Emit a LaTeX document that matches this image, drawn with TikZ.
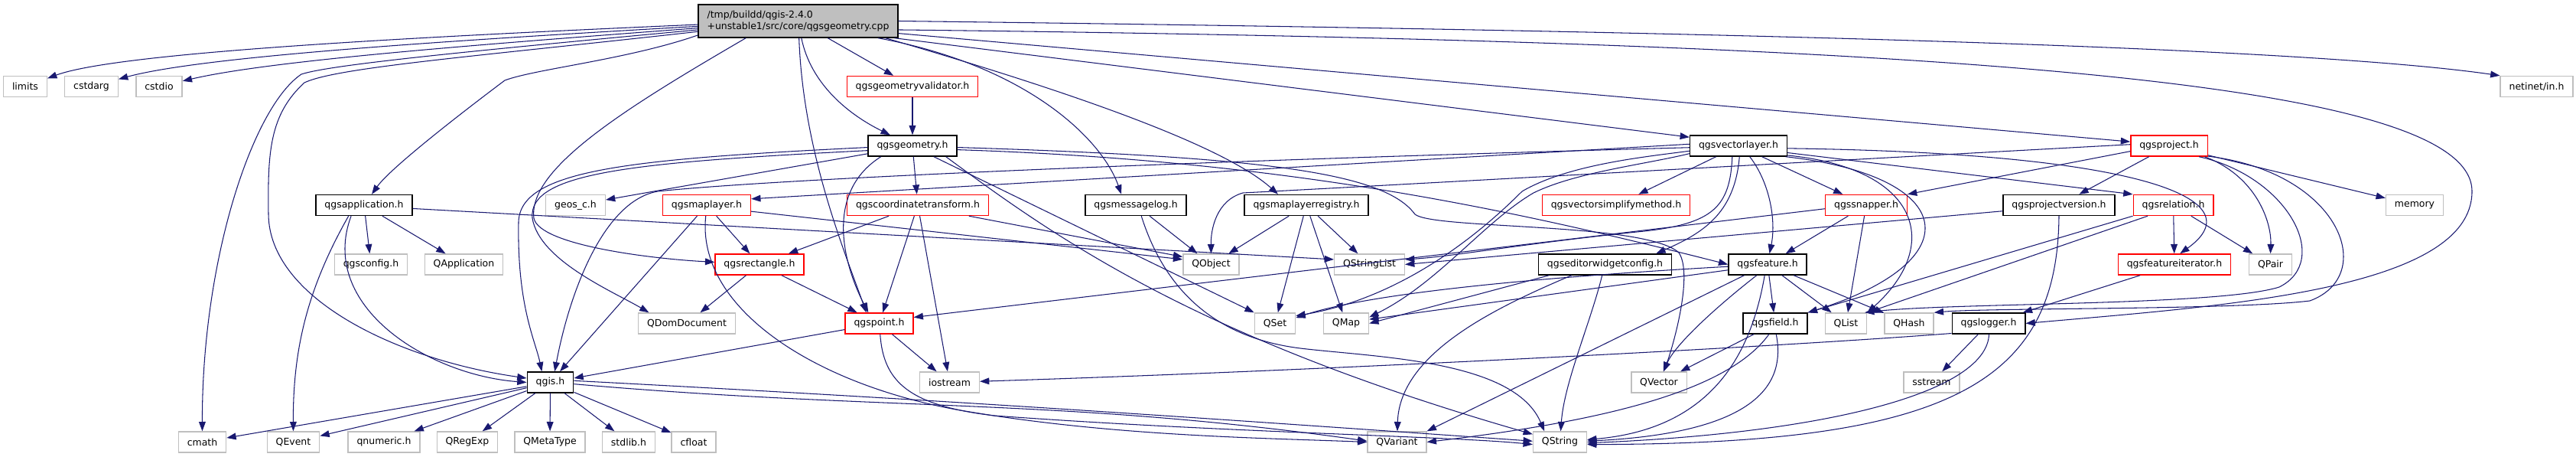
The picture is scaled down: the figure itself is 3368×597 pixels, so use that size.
\documentclass[tikz,border=0pt]{standalone}
\usepackage{fontspec}
\setmainfont{DejaVu Sans}
\usetikzlibrary{arrows.meta}
\definecolor{edgeblue}{RGB}{25,25,112}
\definecolor{sysgray}{RGB}{191,191,191}

\begin{document}
\begin{tikzpicture}[x=0.02cm,y=0.02cm,
  inc/.style={rectangle,draw=black,fill=white,line width=0.8pt,inner xsep=6.5pt,inner ysep=0pt,
              minimum height=0.54cm,font=\fontsize{7.1}{8.5}\selectfont},
  incred/.style={inc,draw=red},
  sys/.style={inc,draw=sysgray},
  cppfile/.style={inc,fill=sysgray,align=left,minimum height=0.86cm},
  dep/.style={-{Triangle[length=7pt,width=5pt]},edgeblue,line width=0.6pt}
]
\useasboundingbox (0,0) rectangle (3368,-597);

\node[cppfile] (root) at (1043.5,-27.5) {/tmp/buildd/qgis-2.4.0\\+unstable1/src/core/qgsgeometry.cpp};

\node[sys] (limits) at (33,-113) {limits};
\node[sys] (cstdarg) at (119.5,-113) {cstdarg};
\node[sys] (cstdio) at (208,-113) {cstdio};
\node[incred] (gvalid) at (1193,-113) {qgsgeometryvalidator.h};
\node[sys] (netinet) at (3316.5,-113) {netinet/in.h};

\node[inc] (geom) at (1193,-190.5) {qgsgeometry.h};
\node[inc] (vlayer) at (2273,-190.5) {qgsvectorlayer.h};
\node[incred] (project) at (2836,-190.5) {qgsproject.h};

\node[inc] (app) at (476,-268) {qgsapplication.h};
\node[sys] (geos) at (752.5,-268) {geos\_c.h};
\node[incred] (maplayer) at (924,-268) {qgsmaplayer.h};
\node[incred] (ct) at (1200,-268) {qgscoordinatetransform.h};
\node[inc] (msglog) at (1485,-268) {qgsmessagelog.h};
\node[inc] (mlreg) at (1708,-268) {qgsmaplayerregistry.h};
\node[incred] (vsimp) at (2113,-268) {qgsvectorsimplifymethod.h};
\node[incred] (snapper) at (2440,-268) {qgssnapper.h};
\node[inc] (projver) at (2692,-268) {qgsprojectversion.h};
\node[incred] (relation) at (2841.5,-268) {qgsrelation.h};
\node[sys] (memory) at (3157,-268) {memory};

\node[sys] (qgsconfig) at (485,-345.5) {qgsconfig.h};
\node[sys] (qapp) at (606.5,-345.5) {QApplication};
\node[incred] (rect) at (993,-345.5) {qgsrectangle.h};
\node[sys] (qobject) at (1583.5,-345.5) {QObject};
\node[sys] (qstringlist) at (1790.5,-345.5) {QStringList};
\node[inc] (ewc) at (2098.5,-345.5) {qgseditorwidgetconfig.h};
\node[inc] (feature) at (2311,-345.5) {qgsfeature.h};
\node[incred] (fiter) at (2843,-345.5) {qgsfeatureiterator.h};
\node[sys] (qpair) at (2968.5,-345.5) {QPair};

\node[sys] (qdomdoc) at (898,-422.5) {QDomDocument};
\node[incred] (point) at (1149.5,-422.5) {qgspoint.h};
\node[sys] (qset) at (1667,-422.5) {QSet};
\node[sys] (qmap) at (1760,-422.5) {QMap};
\node[inc] (field) at (2321,-422.5) {qgsfield.h};
\node[sys] (qlist) at (2413.5,-422.5) {QList};
\node[sys] (qhash) at (2496,-422.5) {QHash};
\node[inc] (logger) at (2600,-422.5) {qgslogger.h};

\node[inc] (qgis) at (719.5,-499.5) {qgis.h};
\node[sys] (iostream) at (1241.5,-499.5) {iostream};
\node[sys] (qvector) at (2169,-499.5) {QVector};
\node[sys] (sstream) at (2525.5,-499.5) {sstream};

\node[sys] (cmath) at (264.5,-577.5) {cmath};
\node[sys] (qevent) at (383.5,-577.5) {QEvent};
\node[sys] (qnumeric) at (502,-577.5) {qnumeric.h};
\node[sys] (qregexp) at (611,-577.5) {QRegExp};
\node[sys] (qmetatype) at (719,-577.5) {QMetaType};
\node[sys] (stdlib) at (822,-577.5) {stdlib.h};
\node[sys] (cfloat) at (907,-577.5) {cfloat};
\node[sys] (qvariant) at (1826.5,-577.5) {QVariant};
\node[sys] (qstring) at (2039.5,-577.5) {QString};

% qgsgeometry.cpp
\draw[dep] (root.182) .. controls (500,-50) and (150,-70) .. (limits);
\draw[dep] (root.183) .. controls (550,-55) and (260,-75) .. (cstdarg);
\draw[dep] (root.184) .. controls (600,-60) and (350,-80) .. (cstdio);
\draw[dep] (root.185) .. controls (600,-68) and (430,-85) .. (394,-97) .. controls (330,-140) and (264,-340) .. (cmath);
\draw[dep] (root.186) .. controls (620,-74) and (440,-88) .. (398,-108) .. controls (352,-150) and (350,-200) .. (351,-280) .. controls (352,-390) and (520,-470) .. (qgis.170);
\draw[dep] (root.188) .. controls (820,-78) and (700,-90) .. (660,-105) .. controls (600,-150) and (510,-220) .. (app);
\draw[dep] (root.198) .. controls (820,-140) and (690,-220) .. (698,-285) .. controls (705,-320) and (850,-338) .. (rect);
\draw[dep] (root) -- (gvalid);
\draw[dep] (root.281) .. controls (1060,-110) and (1110,-150) .. (geom);
\draw[dep] (root.273) .. controls (1050,-200) and (1105,-330) .. (point.140);
\draw[dep] (root.348) .. controls (1340,-85) and (1440,-180) .. (msglog.143);
\draw[dep] (root.349) .. controls (1400,-120) and (1600,-190) .. (mlreg.159);
\draw[dep] (root.350) -- (vlayer.170);
\draw[dep] (root.353) -- (project.174);
\draw[dep] (root.east) .. controls (2200,-40) and (3000,-60) .. (netinet.north west);
\draw[dep] (root.355) .. controls (2600,-55) and (3232,-110) .. (3232,-250) .. controls (3232,-380) and (2900,-400) .. (logger.east);

\draw[dep] (gvalid) -- (geom);

% qgsgeometry.h
\draw[dep] (geom) -- (geos);
\draw[dep] (geom.182) .. controls (820,-208) and (680,-222) .. (678,-290) .. controls (676,-400) and (700,-445) .. (qgis.128);
\draw[dep] (geom.186) .. controls (830,-212) and (690,-225) .. (696,-285) .. controls (705,-340) and (800,-380) .. (qdomdoc.164);
\draw[dep] (geom) -- (ct);
\draw[dep] (geom.199) .. controls (1080,-250) and (1100,-340) .. (point.135);
\draw[dep] (geom.333) -- (qset.north west);
\draw[dep] (geom.342) .. controls (1380,-310) and (1560,-440) .. (qstring);
\draw[dep] (geom.358) .. controls (1650,-205) and (1810,-225) .. (1850,-280) .. controls (1875,-300) and (2150,-290) .. (2195,-330) .. controls (2215,-360) and (2185,-460) .. (qvector);
\draw[dep] (geom.355) .. controls (1700,-210) and (2000,-280) .. (feature.west);

% qgsapplication.h
\draw[dep] (app.215) .. controls (400,-380) and (383,-460) .. (qevent);
\draw[dep] (app.220) .. controls (415,-400) and (560,-490) .. (qgis.west);
\draw[dep] (app) -- (qgsconfig);
\draw[dep] (app) -- (qapp);
\draw[dep] (app.356) -- (qstringlist.172);

\draw[dep] (msglog) -- (qobject);
\draw[dep] (msglog.297) .. controls (1520,-370) and (1580,-440) .. (1700,-455) .. controls (1800,-467) and (1980,-470) .. (qstring.145);

\draw[dep] (mlreg) -- (qobject);
\draw[dep] (mlreg) -- (qset);
\draw[dep] (mlreg) -- (qmap);
\draw[dep] (mlreg) -- (qstringlist);

\draw[dep] (maplayer) -- (qgis);
\draw[dep] (maplayer) -- (rect);
\draw[dep] (maplayer.352) -- (qobject.170);
\draw[dep] (maplayer.265) .. controls (910,-400) and (1060,-500) .. (1250,-535) .. controls (1450,-570) and (1650,-572) .. (qvariant.west);

\draw[dep] (ct) -- (rect);
\draw[dep] (ct) -- (point);
\draw[dep] (ct) -- (iostream);
\draw[dep] (ct.348) -- (qobject.165);

\draw[dep] (rect) -- (qdomdoc);
\draw[dep] (rect) -- (point);

\draw[dep] (point) -- (qgis);
\draw[dep] (point) -- (iostream);
\draw[dep] (point.275) .. controls (1155,-500) and (1190,-530) .. (1300,-543) .. controls (1600,-565) and (1900,-570) .. (qstring.185);

% qgis.h
\foreach \n in {cmath,qevent,qnumeric,qregexp,qmetatype,stdlib,cfloat}
  \draw[dep] (qgis) -- (\n);
\draw[dep] (qgis.4) to[out=-3,in=176] (qstring.178);
\draw[dep] (qgis.356) to[out=-5,in=172] (qvariant.178);

% qgsvectorlayer.h
\draw[dep] (vlayer) -- (vsimp);
\draw[dep] (vlayer) -- (snapper);
\draw[dep] (vlayer.316) .. controls (2315,-240) and (2322,-290) .. (feature.80);
\draw[dep] (vlayer.275) .. controls (2268,-280) and (2225,-305) .. (ewc.12);
\draw[dep] (vlayer.240) .. controls (2262,-270) and (2240,-292) .. (2150,-302) .. controls (2000,-317) and (1900,-335) .. (qstringlist.8);
\draw[dep] (vlayer.186) .. controls (2150,-205) and (2050,-215) .. (1990,-250) .. controls (1900,-340) and (1800,-395) .. (qset.20);
\draw[dep] (vlayer.189) .. controls (2150,-215) and (2060,-225) .. (2005,-252) .. controls (1940,-290) and (1880,-370) .. (qmap.15);
\draw[dep] (vlayer.182) .. controls (1500,-212) and (1000,-235) .. (860,-250) .. controls (790,-262) and (745,-380) .. (qgis.68);
\draw[dep] (vlayer.178) -- (maplayer.8);
\draw[dep] (vlayer.349) .. controls (2510,-220) and (2540,-320) .. (qlist.north east);
\draw[dep] (vlayer.347) .. controls (2560,-230) and (2580,-340) .. (field.north east);
\draw[dep] (vlayer.352) -- (relation.north west);
\draw[dep] (vlayer.357) .. controls (2800,-200) and (2950,-260) .. (fiter.63);

% qgsproject.h
\draw[dep] (project) -- (projver);
\draw[dep] (project.188) -- (snapper.north east);
\draw[dep] (project.178) .. controls (2300,-215) and (1800,-243) .. (1625,-252) .. controls (1590,-262) and (1583,-300) .. (qobject.north);
\draw[dep] (project.343) .. controls (2950,-230) and (2970,-290) .. (qpair.north);
\draw[dep] (project) -- (memory);
\draw[dep] (project.340) .. controls (2990,-230) and (3050,-340) .. (2980,-375) .. controls (2900,-400) and (2550,-395) .. (qlist.30);
\draw[dep] (project.345) .. controls (3060,-225) and (3110,-360) .. (3020,-393) .. controls (2920,-405) and (2600,-402) .. (qhash.north east);

\draw[dep] (snapper) -- (feature);
\draw[dep] (snapper) -- (qlist);
\draw[dep] (snapper.185) -- (point.10);

\draw[dep] (projver.south) .. controls (2690,-500) and (2550,-580) .. (qstring.355);
\draw[dep] (projver.186) -- (qstringlist.east);

\draw[dep] (relation) -- (fiter);
\draw[dep] (relation) -- (qpair);
\draw[dep] (relation.south west) -- (field.north east);
\draw[dep] (relation.203) -- (qlist.north east);

\draw[dep] (fiter) -- (logger);

% qgsfeature.h
\draw[dep] (feature.183) .. controls (2050,-360) and (1800,-380) .. (qset.15);
\draw[dep] (feature.188) -- (qmap.10);
\draw[dep] (feature.205) -- (qvariant.north east);
\draw[dep] (feature.225) .. controls (2245,-400) and (2190,-450) .. (qvector);
\draw[dep] (feature.255) .. controls (2290,-460) and (2240,-560) .. (qstring.5);
\draw[dep] (feature) -- (field);
\draw[dep] (feature) -- (qlist);
\draw[dep] (feature) -- (qhash);

\draw[dep] (field) -- (qvector);
\draw[dep] (field.240) .. controls (2260,-510) and (2100,-550) .. (qvariant.east);
\draw[dep] (field.275) .. controls (2335,-500) and (2300,-565) .. (qstring.2);

\draw[dep] (logger.195) .. controls (2300,-455) and (1700,-485) .. (iostream);
\draw[dep] (logger) -- (sstream);
\draw[dep] (logger.272) .. controls (2598,-510) and (2400,-565) .. (qstring.358);

\draw[dep] (ewc.191) -- (qmap.east);
\draw[dep] (ewc.198) .. controls (1960,-400) and (1830,-460) .. (qvariant);
\draw[dep] (ewc.255) .. controls (2080,-420) and (2045,-500) .. (qstring);
\end{tikzpicture}
\end{document}
